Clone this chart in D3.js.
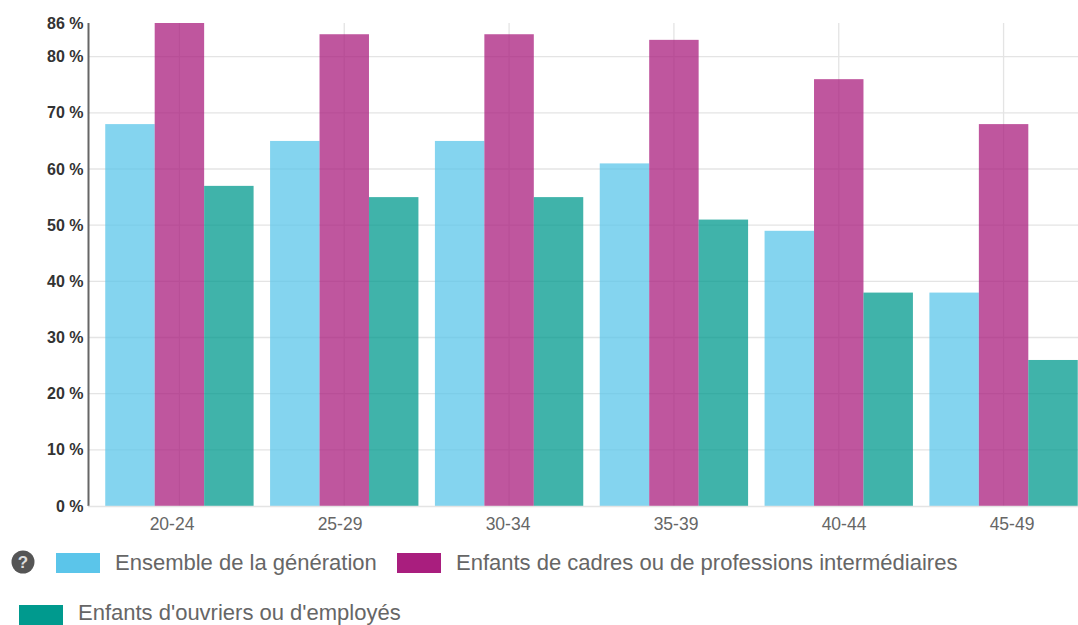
<!DOCTYPE html>
<html>
<head>
<meta charset="utf-8">
<script src="https://cdn.jsdelivr.net/npm/d3@7"></script>
<style>
  html, body { margin: 0; padding: 0; background: #fff; }
  svg { display: block; font-family: "Liberation Sans", Arial, sans-serif; }
  .domain { display: none; }
</style>
</head>
<body>
<div id="chart"></div>
<script>
var categories = ["20-24", "25-29", "30-34", "35-39", "40-44", "45-49"];
var ensemble = [68, 65, 65, 61, 49, 38];
var cadres = [86, 84, 84, 83, 76, 68];
var ouvriers = [57, 55, 55, 51, 38, 26];
var yTicks = [0, 10, 20, 30, 40, 50, 60, 70, 80, 86];
var seriesNames = ["Ensemble de la génération", "Enfants de cadres ou de professions intermédiaires", "Enfants d'ouvriers ou d'employés"];
var seriesColors = ["#5bc5ea", "#a91e7e", "#009a8e"];

var width = 1078, height = 625;
var series = [ensemble, cadres, ouvriers];

var svg = d3.select('#chart').append('svg')
  .attr('width', width)
  .attr('height', height);

var yScale = d3.scaleLinear().domain([0, 86]).range([506, 23]);

var xScale = d3.scaleBand().domain(categories).range([97, 1086])
  .paddingInner(0.1).paddingOuter(0.05);
var xInner = d3.scaleBand().domain([0, 1, 2]).range([0, xScale.bandwidth()]);

// labels sit on a slightly wider band than the bars
var xLabels = d3.scaleBand().domain(categories).range([88, 1096]);

// grid
svg.append('g').selectAll('line').data(yTicks.filter(d => d > 0 && d < 86)).join('line')
  .attr('x1', 89).attr('x2', width)
  .attr('y1', d => yScale(d)).attr('y2', d => yScale(d))
  .attr('stroke', '#e4e4e4').attr('stroke-width', 1.3);

svg.append('g').selectAll('line').data(categories).join('line')
  .attr('x1', d => xScale(d) + xScale.bandwidth() / 2)
  .attr('x2', d => xScale(d) + xScale.bandwidth() / 2)
  .attr('y1', 23).attr('y2', 506)
  .attr('stroke', '#e4e4e4').attr('stroke-width', 1.3);

// bars
svg.append('g').selectAll('g').data(series).join('g')
  .attr('fill', (d, i) => seriesColors[i])
  .attr('fill-opacity', 0.75)
  .selectAll('rect')
  .data((d, i) => d.map((v, j) => ({ cat: categories[j], v: v, s: i })))
  .join('rect')
  .attr('x', d => xScale(d.cat) + xInner(d.s))
  .attr('y', d => yScale(d.v))
  .attr('width', xInner.bandwidth())
  .attr('height', d => yScale(0) - yScale(d.v));

// axes
var yAxis = svg.append('g').attr('transform', 'translate(88.5,0)')
  .call(d3.axisLeft(yScale).tickValues(yTicks).tickSize(0).tickPadding(5).tickFormat(d => d + ' %'));
yAxis.selectAll('text')
  .attr('fill', '#333').attr('font-size', 16).attr('font-weight', 'bold')
  .attr('font-family', '"Liberation Sans", Arial, sans-serif');

svg.append('line').attr('x1', 88.5).attr('x2', 88.5).attr('y1', 23).attr('y2', 506)
  .attr('stroke', '#666').attr('stroke-width', 2);
svg.append('line').attr('x1', 88).attr('x2', width).attr('y1', 506.5).attr('y2', 506.5)
  .attr('stroke', '#e4e4e4').attr('stroke-width', 1.3);

var xAxis = svg.append('g').attr('transform', 'translate(0,506)')
  .call(d3.axisBottom(xLabels).tickSize(0).tickPadding(12));
xAxis.selectAll('text')
  .attr('fill', '#666').attr('font-size', 17.5)
  .attr('font-family', '"Liberation Sans", Arial, sans-serif');

// help icon
svg.append('circle').attr('cx', 23).attr('cy', 562).attr('r', 11.5).attr('fill', '#555');
svg.append('text').attr('x', 23).attr('y', 568).attr('text-anchor', 'middle')
  .attr('fill', '#ddd').attr('font-size', 17).attr('font-weight', 'bold').text('?');

// legend
var legendPos = [[56, 553], [397, 553], [19, 605]];
var legend = svg.append('g').selectAll('g').data(seriesNames).join('g')
  .attr('transform', (d, i) => `translate(${legendPos[i][0]},${legendPos[i][1]})`);
legend.append('rect').attr('width', 44).attr('height', 20)
  .attr('fill', (d, i) => seriesColors[i]);
// last row sits against the bottom edge, lift it so descenders stay in frame
legend.append('text').attr('x', 59).attr('y', (d, i) => i == 2 ? 15 : 17)
  .attr('fill', '#666').attr('font-size', 22).text(d => d);
</script>
</body>
</html>
